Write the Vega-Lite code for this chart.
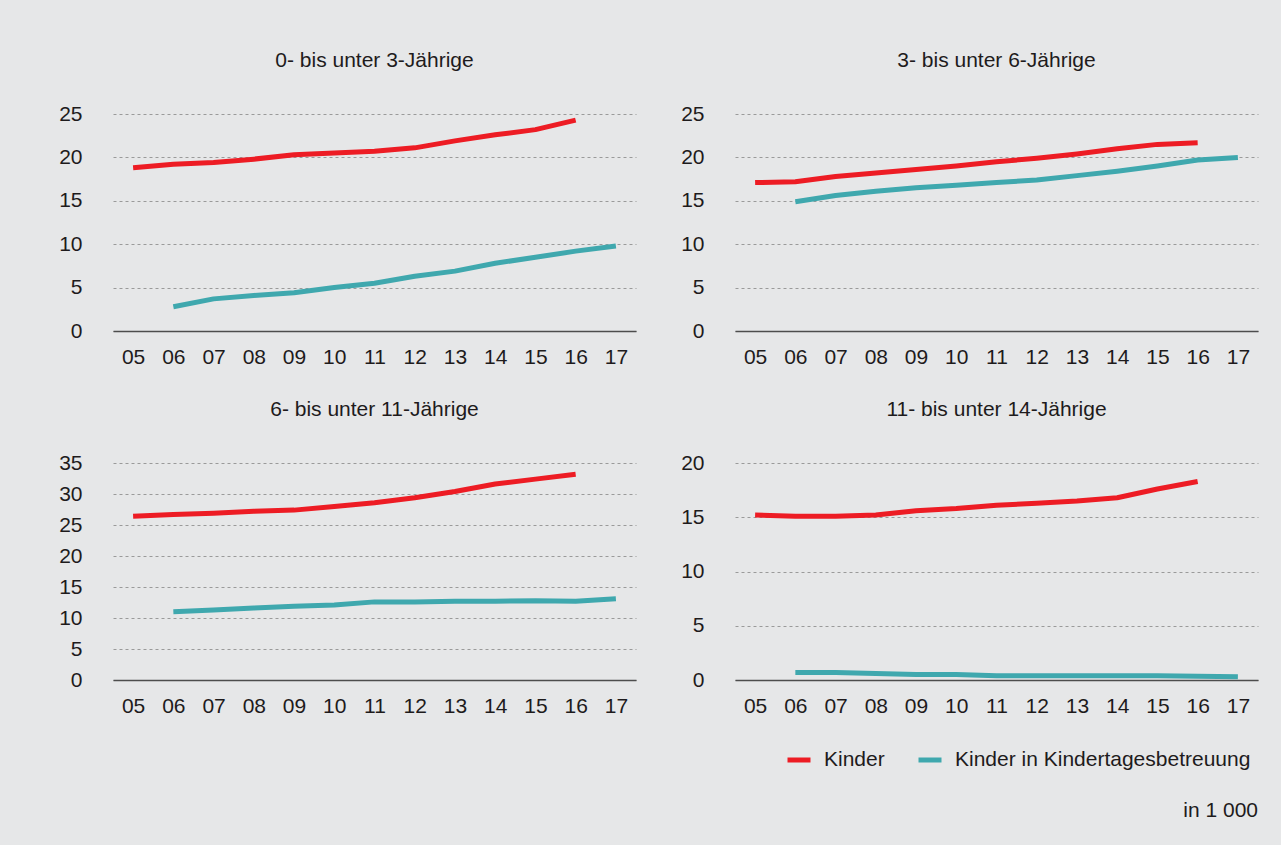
{
  "$schema": "https://vega.github.io/schema/vega-lite/v6.json",
  "background": "#e6e7e8",
  "padding": {"left": 58, "top": 50, "right": 23, "bottom": 24},
  "config": {
    "view": {"stroke": null},
    "font": "Liberation Sans",
    "title": {"font": "Liberation Sans", "fontSize": 21, "fontWeight": "normal", "color": "#1e1b1c"},
    "axis": {"labelFont": "Liberation Sans", "labelFontSize": 21, "labelColor": "#1e1b1c", "ticks": false, "tickSize": 0, "title": null},
    "line": {"strokeWidth": 5, "strokeCap": "butt", "strokeJoin": "round"}
  },
  "title": {"text": "in 1 000", "orient": "bottom", "anchor": "end", "offset": 30, "baseline": "top", "fontSize": 21, "fontWeight": "normal", "color": "#1e1b1c"},
  "datasets": {
    "d": [
      {"panel": "p1", "jahr": "05", "serie": "Kinder", "wert": 18.8},
      {"panel": "p1", "jahr": "06", "serie": "Kinder", "wert": 19.2},
      {"panel": "p1", "jahr": "07", "serie": "Kinder", "wert": 19.4},
      {"panel": "p1", "jahr": "08", "serie": "Kinder", "wert": 19.8},
      {"panel": "p1", "jahr": "09", "serie": "Kinder", "wert": 20.3},
      {"panel": "p1", "jahr": "10", "serie": "Kinder", "wert": 20.5},
      {"panel": "p1", "jahr": "11", "serie": "Kinder", "wert": 20.7},
      {"panel": "p1", "jahr": "12", "serie": "Kinder", "wert": 21.1},
      {"panel": "p1", "jahr": "13", "serie": "Kinder", "wert": 21.9},
      {"panel": "p1", "jahr": "14", "serie": "Kinder", "wert": 22.6},
      {"panel": "p1", "jahr": "15", "serie": "Kinder", "wert": 23.2},
      {"panel": "p1", "jahr": "16", "serie": "Kinder", "wert": 24.3},
      {"panel": "p1", "jahr": "06", "serie": "Kinder in Kindertagesbetreuung", "wert": 2.8},
      {"panel": "p1", "jahr": "07", "serie": "Kinder in Kindertagesbetreuung", "wert": 3.7},
      {"panel": "p1", "jahr": "08", "serie": "Kinder in Kindertagesbetreuung", "wert": 4.1},
      {"panel": "p1", "jahr": "09", "serie": "Kinder in Kindertagesbetreuung", "wert": 4.4},
      {"panel": "p1", "jahr": "10", "serie": "Kinder in Kindertagesbetreuung", "wert": 5.0},
      {"panel": "p1", "jahr": "11", "serie": "Kinder in Kindertagesbetreuung", "wert": 5.5},
      {"panel": "p1", "jahr": "12", "serie": "Kinder in Kindertagesbetreuung", "wert": 6.3},
      {"panel": "p1", "jahr": "13", "serie": "Kinder in Kindertagesbetreuung", "wert": 6.9},
      {"panel": "p1", "jahr": "14", "serie": "Kinder in Kindertagesbetreuung", "wert": 7.8},
      {"panel": "p1", "jahr": "15", "serie": "Kinder in Kindertagesbetreuung", "wert": 8.5},
      {"panel": "p1", "jahr": "16", "serie": "Kinder in Kindertagesbetreuung", "wert": 9.2},
      {"panel": "p1", "jahr": "17", "serie": "Kinder in Kindertagesbetreuung", "wert": 9.8},
      {"panel": "p2", "jahr": "05", "serie": "Kinder", "wert": 17.1},
      {"panel": "p2", "jahr": "06", "serie": "Kinder", "wert": 17.2},
      {"panel": "p2", "jahr": "07", "serie": "Kinder", "wert": 17.8},
      {"panel": "p2", "jahr": "08", "serie": "Kinder", "wert": 18.2},
      {"panel": "p2", "jahr": "09", "serie": "Kinder", "wert": 18.6},
      {"panel": "p2", "jahr": "10", "serie": "Kinder", "wert": 19.0},
      {"panel": "p2", "jahr": "11", "serie": "Kinder", "wert": 19.5},
      {"panel": "p2", "jahr": "12", "serie": "Kinder", "wert": 19.9},
      {"panel": "p2", "jahr": "13", "serie": "Kinder", "wert": 20.4},
      {"panel": "p2", "jahr": "14", "serie": "Kinder", "wert": 21.0},
      {"panel": "p2", "jahr": "15", "serie": "Kinder", "wert": 21.5},
      {"panel": "p2", "jahr": "16", "serie": "Kinder", "wert": 21.7},
      {"panel": "p2", "jahr": "06", "serie": "Kinder in Kindertagesbetreuung", "wert": 14.9},
      {"panel": "p2", "jahr": "07", "serie": "Kinder in Kindertagesbetreuung", "wert": 15.6},
      {"panel": "p2", "jahr": "08", "serie": "Kinder in Kindertagesbetreuung", "wert": 16.1},
      {"panel": "p2", "jahr": "09", "serie": "Kinder in Kindertagesbetreuung", "wert": 16.5},
      {"panel": "p2", "jahr": "10", "serie": "Kinder in Kindertagesbetreuung", "wert": 16.8},
      {"panel": "p2", "jahr": "11", "serie": "Kinder in Kindertagesbetreuung", "wert": 17.1},
      {"panel": "p2", "jahr": "12", "serie": "Kinder in Kindertagesbetreuung", "wert": 17.4},
      {"panel": "p2", "jahr": "13", "serie": "Kinder in Kindertagesbetreuung", "wert": 17.9},
      {"panel": "p2", "jahr": "14", "serie": "Kinder in Kindertagesbetreuung", "wert": 18.4},
      {"panel": "p2", "jahr": "15", "serie": "Kinder in Kindertagesbetreuung", "wert": 19.0},
      {"panel": "p2", "jahr": "16", "serie": "Kinder in Kindertagesbetreuung", "wert": 19.7},
      {"panel": "p2", "jahr": "17", "serie": "Kinder in Kindertagesbetreuung", "wert": 20.0},
      {"panel": "p3", "jahr": "05", "serie": "Kinder", "wert": 26.4},
      {"panel": "p3", "jahr": "06", "serie": "Kinder", "wert": 26.7},
      {"panel": "p3", "jahr": "07", "serie": "Kinder", "wert": 26.9},
      {"panel": "p3", "jahr": "08", "serie": "Kinder", "wert": 27.2},
      {"panel": "p3", "jahr": "09", "serie": "Kinder", "wert": 27.4},
      {"panel": "p3", "jahr": "10", "serie": "Kinder", "wert": 28.0},
      {"panel": "p3", "jahr": "11", "serie": "Kinder", "wert": 28.6},
      {"panel": "p3", "jahr": "12", "serie": "Kinder", "wert": 29.4},
      {"panel": "p3", "jahr": "13", "serie": "Kinder", "wert": 30.4},
      {"panel": "p3", "jahr": "14", "serie": "Kinder", "wert": 31.6},
      {"panel": "p3", "jahr": "15", "serie": "Kinder", "wert": 32.4},
      {"panel": "p3", "jahr": "16", "serie": "Kinder", "wert": 33.2},
      {"panel": "p3", "jahr": "06", "serie": "Kinder in Kindertagesbetreuung", "wert": 11.0},
      {"panel": "p3", "jahr": "07", "serie": "Kinder in Kindertagesbetreuung", "wert": 11.3},
      {"panel": "p3", "jahr": "08", "serie": "Kinder in Kindertagesbetreuung", "wert": 11.6},
      {"panel": "p3", "jahr": "09", "serie": "Kinder in Kindertagesbetreuung", "wert": 11.9},
      {"panel": "p3", "jahr": "10", "serie": "Kinder in Kindertagesbetreuung", "wert": 12.1},
      {"panel": "p3", "jahr": "11", "serie": "Kinder in Kindertagesbetreuung", "wert": 12.6},
      {"panel": "p3", "jahr": "12", "serie": "Kinder in Kindertagesbetreuung", "wert": 12.6},
      {"panel": "p3", "jahr": "13", "serie": "Kinder in Kindertagesbetreuung", "wert": 12.7},
      {"panel": "p3", "jahr": "14", "serie": "Kinder in Kindertagesbetreuung", "wert": 12.7},
      {"panel": "p3", "jahr": "15", "serie": "Kinder in Kindertagesbetreuung", "wert": 12.8},
      {"panel": "p3", "jahr": "16", "serie": "Kinder in Kindertagesbetreuung", "wert": 12.7},
      {"panel": "p3", "jahr": "17", "serie": "Kinder in Kindertagesbetreuung", "wert": 13.1},
      {"panel": "p4", "jahr": "05", "serie": "Kinder", "wert": 15.2},
      {"panel": "p4", "jahr": "06", "serie": "Kinder", "wert": 15.1},
      {"panel": "p4", "jahr": "07", "serie": "Kinder", "wert": 15.1},
      {"panel": "p4", "jahr": "08", "serie": "Kinder", "wert": 15.2},
      {"panel": "p4", "jahr": "09", "serie": "Kinder", "wert": 15.6},
      {"panel": "p4", "jahr": "10", "serie": "Kinder", "wert": 15.8},
      {"panel": "p4", "jahr": "11", "serie": "Kinder", "wert": 16.1},
      {"panel": "p4", "jahr": "12", "serie": "Kinder", "wert": 16.3},
      {"panel": "p4", "jahr": "13", "serie": "Kinder", "wert": 16.5},
      {"panel": "p4", "jahr": "14", "serie": "Kinder", "wert": 16.8},
      {"panel": "p4", "jahr": "15", "serie": "Kinder", "wert": 17.6},
      {"panel": "p4", "jahr": "16", "serie": "Kinder", "wert": 18.3},
      {"panel": "p4", "jahr": "06", "serie": "Kinder in Kindertagesbetreuung", "wert": 0.7},
      {"panel": "p4", "jahr": "07", "serie": "Kinder in Kindertagesbetreuung", "wert": 0.7},
      {"panel": "p4", "jahr": "08", "serie": "Kinder in Kindertagesbetreuung", "wert": 0.6},
      {"panel": "p4", "jahr": "09", "serie": "Kinder in Kindertagesbetreuung", "wert": 0.5},
      {"panel": "p4", "jahr": "10", "serie": "Kinder in Kindertagesbetreuung", "wert": 0.5},
      {"panel": "p4", "jahr": "11", "serie": "Kinder in Kindertagesbetreuung", "wert": 0.4},
      {"panel": "p4", "jahr": "12", "serie": "Kinder in Kindertagesbetreuung", "wert": 0.4},
      {"panel": "p4", "jahr": "13", "serie": "Kinder in Kindertagesbetreuung", "wert": 0.4},
      {"panel": "p4", "jahr": "14", "serie": "Kinder in Kindertagesbetreuung", "wert": 0.4},
      {"panel": "p4", "jahr": "15", "serie": "Kinder in Kindertagesbetreuung", "wert": 0.4},
      {"panel": "p4", "jahr": "16", "serie": "Kinder in Kindertagesbetreuung", "wert": 0.35},
      {"panel": "p4", "jahr": "17", "serie": "Kinder in Kindertagesbetreuung", "wert": 0.3}
    ]
  },
  "data": {"name": "d"},
  "resolve": {"scale": {"color": "shared"}, "legend": {"color": "shared"}},
  "spacing": 32,
  "vconcat": [
    {
      "spacing": 44,
      "hconcat": [
        {
          "title": {"text": "0- bis unter 3-Jährige", "frame": "group", "anchor": "middle", "baseline": "bottom", "offset": 11},
          "width": 523, "height": 217,
          "transform": [{"filter": "datum.panel === 'p1'"}],
          "mark": "line",
          "encoding": {
            "x": {"field": "jahr", "type": "ordinal", "scale": {"type": "point", "padding": 0.5}, "axis": {"labelAngle": 0, "labelPadding": 15, "domainColor": "#4d4d4d", "domainWidth": 1.5, "grid": false, "minExtent": 36, "maxExtent": 36}},
            "y": {"field": "wert", "type": "quantitative", "scale": {"domain": [0, 25], "nice": false}, "axis": {"values": [0, 5, 10, 15, 20, 25], "domain": false, "labelPadding": 31, "gridColor": "#9a9a9a", "gridDash": [3, 3], "gridWidth": 1, "minExtent": 54, "maxExtent": 54}},
            "color": {"field": "serie", "type": "nominal", "scale": {"domain": ["Kinder", "Kinder in Kindertagesbetreuung"], "range": ["#ed1c24", "#3fa8ae"]},
              "legend": {"title": null, "orient": "none", "direction": "horizontal", "legendX": 672, "legendY": 632, "symbolType": "stroke", "symbolSize": 529, "symbolStrokeWidth": 5, "labelFontSize": 21, "labelFont": "Liberation Sans", "labelColor": "#1e1b1c", "labelLimit": 500, "labelOffset": 11, "columnPadding": 31, "padding": 0}}
          }
        },
        {
          "title": {"text": "3- bis unter 6-Jährige", "frame": "group", "anchor": "middle", "baseline": "bottom", "offset": 11},
          "width": 523, "height": 217,
          "transform": [{"filter": "datum.panel === 'p2'"}],
          "mark": "line",
          "encoding": {
            "x": {"field": "jahr", "type": "ordinal", "scale": {"type": "point", "padding": 0.5}, "axis": {"labelAngle": 0, "labelPadding": 15, "domainColor": "#4d4d4d", "domainWidth": 1.5, "grid": false, "minExtent": 36, "maxExtent": 36}},
            "y": {"field": "wert", "type": "quantitative", "scale": {"domain": [0, 25], "nice": false}, "axis": {"values": [0, 5, 10, 15, 20, 25], "domain": false, "labelPadding": 31, "gridColor": "#9a9a9a", "gridDash": [3, 3], "gridWidth": 1, "minExtent": 54, "maxExtent": 54}},
            "color": {"field": "serie", "type": "nominal"}
          }
        }
      ]
    },
    {
      "spacing": 44,
      "hconcat": [
        {
          "title": {"text": "6- bis unter 11-Jährige", "frame": "group", "anchor": "middle", "baseline": "bottom", "offset": 11},
          "width": 523, "height": 217,
          "transform": [{"filter": "datum.panel === 'p3'"}],
          "mark": "line",
          "encoding": {
            "x": {"field": "jahr", "type": "ordinal", "scale": {"type": "point", "padding": 0.5}, "axis": {"labelAngle": 0, "labelPadding": 15, "domainColor": "#4d4d4d", "domainWidth": 1.5, "grid": false, "minExtent": 36, "maxExtent": 36}},
            "y": {"field": "wert", "type": "quantitative", "scale": {"domain": [0, 35], "nice": false}, "axis": {"values": [0, 5, 10, 15, 20, 25, 30, 35], "domain": false, "labelPadding": 31, "gridColor": "#9a9a9a", "gridDash": [3, 3], "gridWidth": 1, "minExtent": 54, "maxExtent": 54}},
            "color": {"field": "serie", "type": "nominal"}
          }
        },
        {
          "title": {"text": "11- bis unter 14-Jährige", "frame": "group", "anchor": "middle", "baseline": "bottom", "offset": 11},
          "width": 523, "height": 217,
          "transform": [{"filter": "datum.panel === 'p4'"}],
          "mark": "line",
          "encoding": {
            "x": {"field": "jahr", "type": "ordinal", "scale": {"type": "point", "padding": 0.5}, "axis": {"labelAngle": 0, "labelPadding": 15, "domainColor": "#4d4d4d", "domainWidth": 1.5, "grid": false, "minExtent": 36, "maxExtent": 36}},
            "y": {"field": "wert", "type": "quantitative", "scale": {"domain": [0, 20], "nice": false}, "axis": {"values": [0, 5, 10, 15, 20], "domain": false, "labelPadding": 31, "gridColor": "#9a9a9a", "gridDash": [3, 3], "gridWidth": 1, "minExtent": 54, "maxExtent": 54}},
            "color": {"field": "serie", "type": "nominal"}
          }
        }
      ]
    }
  ]
}
